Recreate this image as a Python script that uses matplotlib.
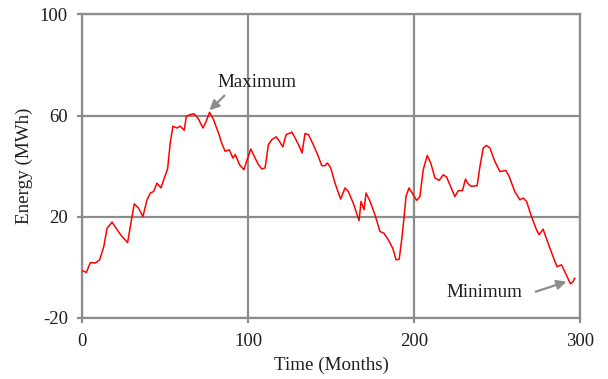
import matplotlib
matplotlib.use("Agg")
import matplotlib.pyplot as plt

months = [0, 2.4, 4.8, 7.8, 10.4, 12.9, 14.9, 17.9, 20.9, 23.9,
          27.3, 28.9, 31.3, 33.9, 36.5, 39, 41, 43, 45, 47.4,
          49.4, 51.4, 53, 54.6, 57, 59, 61.4, 62.7, 65, 67.5,
          70, 72.7, 74.7, 76.7, 79.1, 82.1, 84.2, 86.1, 88.6, 90.8,
          92.2, 94.8, 97.4, 99.4, 101.6, 104.2, 106.2, 108.2, 110.2, 112.2,
          114.3, 116.9, 118.9, 120.9, 122.9, 125.3, 126.3, 128.3, 130.9, 132.5,
          134.3, 136.3, 139.3, 142.3, 144.4, 146.4, 147.8, 149.8, 152.4, 155.8,
          158.4, 160.4, 163.4, 166.9, 168.1, 169.9, 171.1, 173.5, 176.5, 179.5,
          181.9, 184.5, 187.2, 189.2, 191.1, 192.6, 194, 195.2, 197, 199.2,
          201.6, 203.6, 205.6, 208, 210.1, 212.7, 215.2, 217.7, 219.7, 222.1,
          224.7, 226.7, 229.3, 231.1, 232.7, 234.7, 238.1, 239.8, 241.8, 243.8,
          245.8, 248.8, 251.8, 255.4, 257.4, 260.8, 263.9, 265.9, 267.9, 270.9,
          273.9, 275.5, 277.9, 280.9, 284.3, 286.3, 289, 291, 294.4, 296,
          297]

energy = [-1.3, -2.0, 1.9, 1.7, 3.0, 8.2, 15.5, 17.9, 14.9, 12.2,
          9.8, 16.2, 25.1, 23.4, 20.1, 26.7, 29.4, 30.0, 33.3, 31.4,
          35.3, 38.9, 49.2, 55.8, 55.1, 55.8, 54.2, 59.7, 60.4, 60.7,
          58.7, 55.1, 57.8, 61.3, 58.4, 53.1, 48.8, 45.9, 46.5, 43.2,
          44.6, 40.6, 38.6, 42.6, 46.8, 43.2, 40.6, 38.9, 39.3, 48.5,
          50.5, 51.6, 49.8, 47.6, 52.5, 53.1, 53.5, 51.2, 47.8, 45.2,
          52.9, 52.5, 48.5, 43.9, 40.2, 40.2, 41.3, 39.3, 33.3, 27.0,
          31.4, 30.0, 25.4, 18.5, 26.1, 22.8, 29.4, 26.1, 20.8, 14.2,
          13.5, 10.9, 7.6, 3.0, 3.2, 10.9, 19.5, 28.0, 31.4, 29.1,
          26.5, 28.0, 38.6, 44.2, 41.3, 35.3, 34.4, 36.6, 35.7, 32.0,
          28.0, 30.3, 30.4, 34.9, 33.0, 32.0, 32.3, 39.9, 47.2, 48.2,
          47.2, 41.9, 37.9, 38.3, 36.0, 30.0, 26.7, 27.4, 26.1, 20.1,
          14.9, 12.9, 15.1, 9.6, 3.6, 0.3, 1.0, -1.7, -6.5, -5.6,
          -4.3]

x_ticks = [0, 100, 200, 300]
y_ticks = [-20, 20, 60, 100]

plt.rcParams['font.family'] = ['Liberation Serif', 'DejaVu Serif']
plt.rcParams['axes.unicode_minus'] = False

fig = plt.figure(figsize=(6.08, 3.79), dpi=100)
ax = fig.add_axes([0.1355, 0.161, 0.818, 0.801])

gray = '#8c8c8c'
txt = '#1e1e1e'
ax.plot(months, energy, color='#ff0000', lw=1.1, zorder=3,
        solid_joinstyle='round')

ax.set_xlim(0, 300)
ax.set_ylim(-20, 100)
ax.set_xticks(x_ticks)
ax.set_yticks(y_ticks)
ax.grid(True, color=gray, lw=1.6)
for s in ax.spines.values():
    s.set_color(gray)
    s.set_linewidth(1.6)
ax.tick_params(colors=gray, labelcolor=txt, width=1.6, length=3.5,
               labelsize=13.5, pad=7)

ax.set_xlabel('Time (Months)', fontsize=13.7, color=txt, labelpad=5)
ax.set_ylabel('Energy (MWh)', fontsize=13.7, color=txt, labelpad=5)

arrow = dict(arrowstyle='-|>', color=gray, lw=1.6, mutation_scale=14,
             shrinkA=0, shrinkB=0)
ax.text(105.2, 73.2, 'Maximum', fontsize=13.7, color=txt,
        ha='center', va='center')
ax.annotate('', xy=(76.7, 62.1), xytext=(85.7, 67.9), arrowprops=arrow)
ax.text(242.6, -9.8, 'Minimum', fontsize=13.7, color=txt,
        ha='center', va='center')
ax.annotate('', xy=(292, -5.6), xytext=(273.5, -9.6), arrowprops=arrow)

fig.savefig('out.png', dpi=100)
